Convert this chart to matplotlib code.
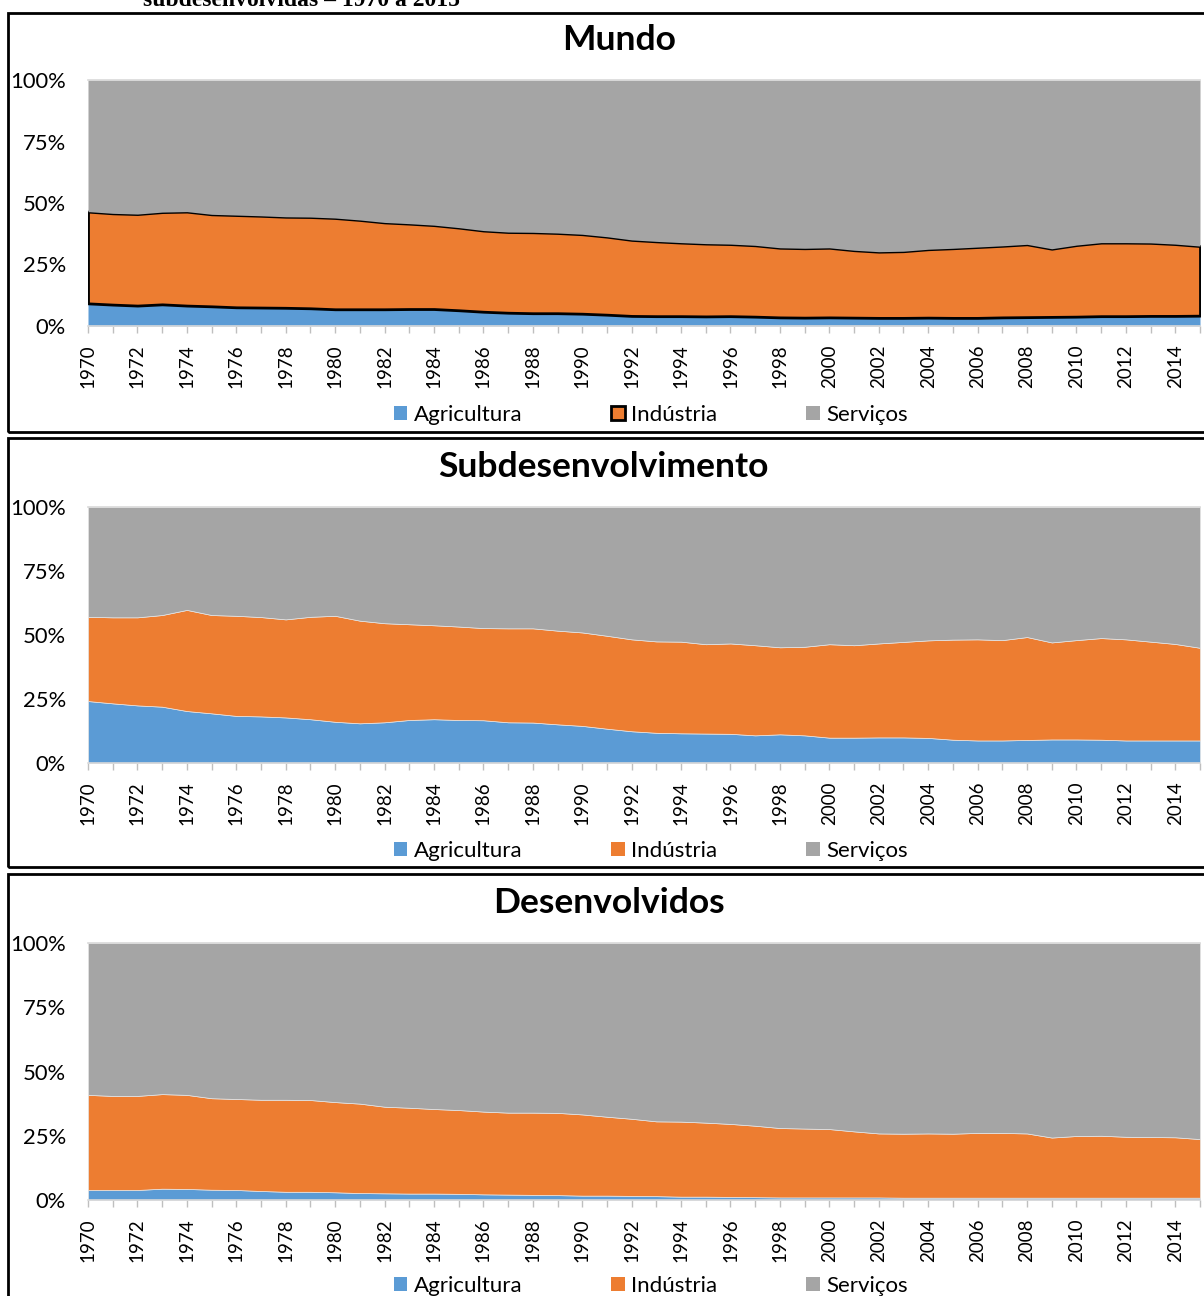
import numpy as np
import matplotlib.pyplot as plt
from matplotlib.patches import Patch, Rectangle

plt.rcParams['font.family'] = ['Lato', 'DejaVu Sans']

years = np.arange(1970, 2016)

# sector shares (% of value added), 1970-2015
mundo_agri = [9.2, 8.7, 8.3, 8.8, 8.3, 8.0, 7.6, 7.5, 7.4, 7.2,
              6.8, 6.8, 6.8, 6.9, 6.9, 6.4, 5.8, 5.4, 5.2, 5.2,
              5.0, 4.6, 4.1, 4.0, 4.0, 3.9, 4.0, 3.8, 3.5, 3.4,
              3.5, 3.4, 3.3, 3.3, 3.4, 3.3, 3.3, 3.5, 3.6, 3.7,
              3.8, 4.0, 4.0, 4.1, 4.1, 4.2]
mundo_ind = [37.3, 37.1, 37.2, 37.5, 38.2, 37.4, 37.5, 37.3, 37.0, 37.1,
             37.1, 36.3, 35.3, 34.7, 34.1, 33.6, 33.0, 32.8, 32.9, 32.6,
             32.3, 31.7, 30.9, 30.4, 29.9, 29.6, 29.3, 29.0, 28.3, 28.2,
             28.3, 27.4, 26.9, 27.1, 27.8, 28.3, 28.8, 29.1, 29.6, 27.7,
             29.1, 29.9, 29.9, 29.7, 29.2, 28.3]
mundo_serv = [53.5, 54.2, 54.5, 53.7, 53.5, 54.6, 54.9, 55.2, 55.6, 55.7,
              56.1, 56.9, 57.9, 58.4, 59.0, 60.0, 61.2, 61.8, 61.9, 62.2,
              62.7, 63.7, 65.0, 65.6, 66.1, 66.5, 66.7, 67.2, 68.2, 68.4,
              68.2, 69.2, 69.8, 69.6, 68.8, 68.4, 67.9, 67.4, 66.8, 68.6,
              67.1, 66.1, 66.1, 66.2, 66.7, 67.5]

sub_agri = [24.2, 23.3, 22.5, 22.0, 20.3, 19.4, 18.4, 18.2, 17.8, 17.1,
            16.1, 15.5, 15.9, 16.8, 17.1, 16.8, 16.7, 15.9, 15.8, 15.1,
            14.5, 13.4, 12.4, 11.8, 11.6, 11.5, 11.4, 10.8, 11.2, 10.8,
            9.9, 9.9, 10.0, 10.0, 9.8, 9.1, 8.8, 8.8, 9.0, 9.2,
            9.2, 9.1, 8.8, 8.8, 8.8, 8.8]
sub_ind = [32.9, 33.6, 34.4, 35.8, 39.5, 38.4, 39.1, 38.8, 38.3, 40.0,
           41.4, 40.1, 38.7, 37.4, 36.7, 36.5, 36.0, 36.7, 36.8, 36.6,
           36.5, 36.3, 35.9, 35.7, 35.8, 34.9, 35.3, 35.2, 34.0, 34.6,
           36.5, 36.1, 36.7, 37.3, 38.1, 39.1, 39.5, 39.2, 40.2, 37.9,
           38.8, 39.7, 39.5, 38.6, 37.7, 36.2]
sub_serv = [42.9, 43.1, 43.1, 42.2, 40.2, 42.2, 42.5, 43.0, 43.9, 42.9,
            42.5, 44.4, 45.4, 45.8, 46.2, 46.7, 47.3, 47.4, 47.4, 48.3,
            49.0, 50.3, 51.7, 52.5, 52.6, 53.6, 53.3, 54.0, 54.8, 54.6,
            53.6, 54.0, 53.3, 52.7, 52.1, 51.8, 51.7, 52.0, 50.8, 52.9,
            52.0, 51.2, 51.7, 52.6, 53.5, 55.0]

dev_agri = [3.9, 3.9, 3.9, 4.4, 4.3, 4.0, 3.9, 3.5, 3.2, 3.2,
            3.0, 2.7, 2.6, 2.5, 2.5, 2.4, 2.2, 2.1, 2.0, 1.9,
            1.7, 1.7, 1.6, 1.5, 1.3, 1.3, 1.2, 1.1, 1.0, 1.0,
            1.0, 1.0, 1.0, 0.9, 0.9, 0.9, 0.9, 0.9, 0.9, 0.9,
            0.9, 0.9, 0.9, 0.9, 0.9, 0.9]
dev_ind = [37.0, 36.6, 36.6, 36.8, 36.6, 35.6, 35.4, 35.5, 35.8, 35.7,
           35.1, 34.8, 33.7, 33.4, 32.9, 32.6, 32.2, 31.9, 32.0, 32.0,
           31.6, 30.7, 30.0, 29.1, 29.2, 28.8, 28.4, 27.8, 27.0, 26.8,
           26.6, 25.7, 24.9, 24.9, 25.0, 24.9, 25.2, 25.2, 25.0, 23.4,
           24.0, 24.1, 23.7, 23.6, 23.5, 22.8]
dev_serv = [59.1, 59.5, 59.5, 58.8, 59.1, 60.4, 60.7, 61.0, 61.0, 61.1,
            61.9, 62.5, 63.7, 64.1, 64.6, 65.0, 65.6, 66.0, 66.0, 66.1,
            66.7, 67.6, 68.4, 69.4, 69.5, 69.9, 70.4, 71.1, 72.0, 72.2,
            72.4, 73.3, 74.1, 74.2, 74.1, 74.2, 73.9, 73.9, 74.1, 75.7,
            75.1, 75.0, 75.4, 75.5, 75.6, 76.3]

sectors = ['Agricultura', 'Indústria', 'Serviços']
colors = ['#5B9BD5', '#ED7D31', '#A5A5A5']

W, H = 1204, 1296
fig = plt.figure(figsize=(W / 100, H / 100), dpi=100)


def fx(x):
    return x / W


def fy(y):
    return 1 - y / H


# title, title centre x, frame top/bottom, plot top/bottom, legend y, series, outline industry
panels = [
    ('Mundo', 619, 13, 432, 80, 326, 415,
     (mundo_agri, mundo_ind, mundo_serv), True),
    ('Subdesenvolvimento', 603, 438, 867, 507, 763, 851,
     (sub_agri, sub_ind, sub_serv), False),
    ('Desenvolvidos', 609, 874, 1320, 943, 1200, 1286,
     (dev_agri, dev_ind, dev_serv), False),
]

x0, x1 = 88, 1200

for title, tx, ftop, fbot, ptop, pbot, ly, series, outlined in panels:
    fig.patches.append(Rectangle((fx(8), fy(fbot)), fx(1215 - 8), fy(ftop) - fy(fbot),
                                 transform=fig.transFigure, fill=False,
                                 edgecolor='black', linewidth=2.0))
    fig.text(fx(tx), fy(ptop - 40), title, ha='center', va='center',
             fontsize=25.5, fontweight='bold')

    ax = fig.add_axes([fx(x0), fy(pbot), fx(x1 - x0), fy(ptop) - fy(pbot)])
    data = np.array(series, dtype=float)
    data = data / data.sum(axis=0) * 100
    polys = ax.stackplot(years, data, colors=colors)
    for p in polys:
        p.set_edgecolor('#E6E6E6')
        p.set_linewidth(0.5)
    if outlined:
        polys[0].set_linewidth(0)
        polys[2].set_linewidth(0)
        polys[1].set_edgecolor('black')
        polys[1].set_linewidth(2.0)
    ax.axhline(100, color='#D9D9D9', lw=1.2, zorder=3, clip_on=False)

    ax.set_xlim(1970, 2015)
    ax.set_ylim(0, 100)
    ax.set_yticks([0, 25, 50, 75, 100])
    ax.set_yticklabels(['0%', '25%', '50%', '75%', '100%'])
    ax.set_xticks(years)
    ax.set_xticklabels([str(y) if y % 2 == 0 else '' for y in years], rotation=90)
    ax.tick_params(axis='y', length=0, pad=16, labelsize=15.8)
    ax.tick_params(axis='x', direction='out', length=5, width=1, color='#BFBFBF',
                   pad=8, labelsize=13.5)
    for s in ['top', 'right', 'left']:
        ax.spines[s].set_visible(False)
    ax.spines['bottom'].set_color('#D9D9D9')
    ax.spines['bottom'].set_linewidth(1.2)

    handles = []
    for i, (name, c) in enumerate(zip(sectors, colors)):
        if outlined and i == 1:
            handles.append(Patch(facecolor=c, edgecolor='black', linewidth=2, label=name))
        else:
            handles.append(Patch(facecolor=c, edgecolor='none', label=name))
    fig.legend(handles=handles, loc='center', bbox_to_anchor=(fx(651), fy(ly)),
               ncol=3, frameon=False, fontsize=16, handlelength=0.6,
               handleheight=0.6, handletextpad=0.3, columnspacing=4.0)

fig.text(fx(143), fy(5.7), 'subdesenvolvidas – 1970 a 2015', ha='left', va='baseline',
         family='Liberation Serif', fontweight='bold', fontsize=17)

fig.savefig('out.png', dpi=100)
